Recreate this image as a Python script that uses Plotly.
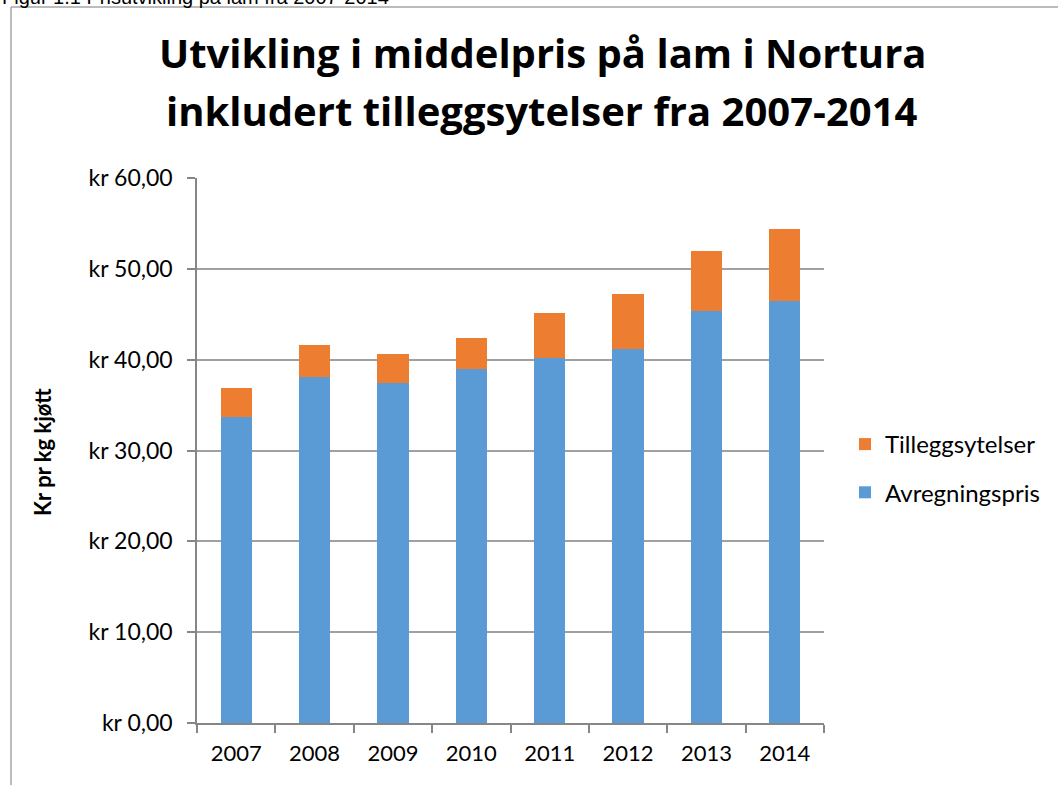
import plotly.graph_objects as go

years = ["2007", "2008", "2009", "2010", "2011", "2012", "2013", "2014"]
avregningspris = [33.66, 38.08, 37.39, 38.96, 40.21, 41.16, 45.36, 46.43]
tilleggsytelser = [3.22, 3.52, 3.22, 3.44, 4.90, 6.07, 6.63, 7.94]
y_ticks = [0, 10, 20, 30, 40, 50, 60]
y_tick_labels = ["kr 0,00", "kr 10,00", "kr 20,00", "kr 30,00", "kr 40,00", "kr 50,00", "kr 60,00"]

W, H = 1058, 785
X0, X1, Y0, Y1 = 197, 824, 178, 723  # plot area in pixels


def px(x):
    return (x - X0) / (X1 - X0)


def py(y):
    return (Y1 - y) / (Y1 - Y0)


FONT = "Lato, Calibri, Carlito, sans-serif"
TFONT = "Open Sans, Calibri, sans-serif"

fig = go.Figure()
fig.add_trace(go.Bar(x=years, y=avregningspris, name="Avregningspris",
                     marker=dict(color="#5B9BD5", line=dict(width=0)),
                     legendgroup="a", legendrank=2))
fig.add_trace(go.Bar(x=years, y=tilleggsytelser, name="Tilleggsytelser",
                     marker=dict(color="#ED7D31", line=dict(width=0)),
                     legendgroup="b", legendrank=1))

fig.update_layout(
    width=W, height=H,
    margin=dict(l=X0, r=W - X1, t=Y0, b=H - Y1),
    barmode="stack", bargap=0.6,
    plot_bgcolor="white", paper_bgcolor="white",
    font=dict(family=FONT, color="black", size=21),
    showlegend=True,
    legend=dict(x=px(845), y=py(422), xanchor="left", yanchor="top",
                traceorder="grouped", tracegroupgap=14,
                font=dict(size=24, family=FONT), bgcolor="rgba(0,0,0,0)"),
    xaxis=dict(showline=True, linecolor="#868686", linewidth=1.5,
               ticks="outside", ticklen=8, tickcolor="#868686", tickwidth=1.5,
               tickson="boundaries", tickfont=dict(size=22),
               showgrid=False, ticklabelstandoff=10),
    yaxis=dict(range=[0, 60], tickvals=y_ticks, ticktext=y_tick_labels,
               showline=True, linecolor="#868686", linewidth=1.5,
               ticks="outside", ticklen=8, tickcolor="#868686", tickwidth=1.5,
               showgrid=True, gridcolor="#A0A0A0", gridwidth=1.5,
               zeroline=False, tickfont=dict(size=23),
               ticklabelstandoff=10),
)

annotations = [
    dict(text="<b>Utvikling i middelpris på lam i Nortura</b>", x=px(542), y=py(52),
         xref="paper", yref="paper", xanchor="center", yanchor="middle",
         showarrow=False, font=dict(size=40, family=TFONT)),
    dict(text="<b>inkludert tilleggsytelser fra 2007-2014</b>", x=px(542), y=py(111),
         xref="paper", yref="paper", xanchor="center", yanchor="middle",
         showarrow=False, font=dict(size=40, family=TFONT)),
    dict(text="<b>Kr pr kg kjøtt</b>", x=px(43), y=py(452), textangle=-90,
         xref="paper", yref="paper", xanchor="center", yanchor="middle",
         showarrow=False, font=dict(size=22, family=FONT)),
    dict(text="Figur 1.1 Prisutvikling på lam fra 2007-2014", x=px(0), y=py(10),
         xref="paper", yref="paper", xanchor="left", yanchor="bottom",
         showarrow=False, font=dict(size=20, family="Liberation Sans, Arial")),
]
fig.update_layout(annotations=annotations)

fig.add_shape(type="line", xref="paper", yref="paper",
              x0=px(11), x1=px(11), y0=py(7), y1=py(790),
              line=dict(color="#A6A6A6", width=1.5))
fig.add_shape(type="line", xref="paper", yref="paper",
              x0=px(11), x1=px(1060), y0=py(7), y1=py(7),
              line=dict(color="#A6A6A6", width=1.5))

fig.write_html("out.html", config={"displayModeBar": False},
               post_script="document.body.style.margin='0';")
